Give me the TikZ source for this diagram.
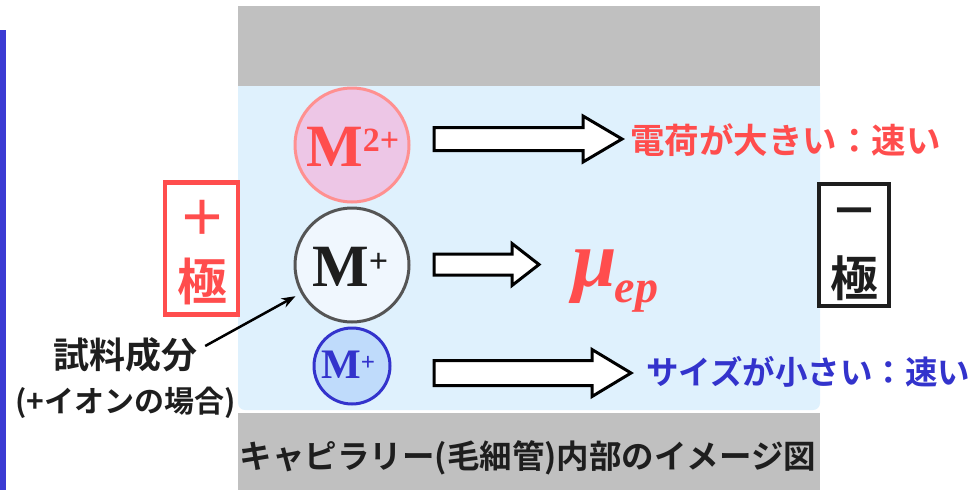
\documentclass[tikz,border=0pt]{standalone}
\usepackage{fontspec}
\setmainfont{Liberation Serif}
\newfontfamily\jp{Noto Sans CJK JP}[BoldFont={Noto Sans CJK JP Bold}]
\usetikzlibrary{arrows.meta,calc}

\definecolor{wallgray}{HTML}{C0C0C0}
\definecolor{bufferblue}{HTML}{DFF1FD}
\definecolor{hotred}{HTML}{FF4D4D}
\definecolor{deepblue}{HTML}{3333CC}
\definecolor{edgeblue}{HTML}{3B3BD3}
\definecolor{pinkfill}{HTML}{EDC6E6}
\definecolor{pinkedge}{HTML}{FF9090}
\definecolor{palefill}{HTML}{F0F7FE}
\definecolor{darkedge}{HTML}{555555}
\definecolor{skyfill}{HTML}{BFDBFB}
\definecolor{inkblack}{HTML}{1E1E1E}

\newcommand{\jpsize}[1]{\fontsize{#1}{#1}\selectfont}

\begin{document}
\begin{tikzpicture}[x=1pt,y=-1pt,
  jptext/.style={font=\jp\bfseries, inner sep=0pt},
  ion/.style={circle, line width=3pt, inner sep=0pt},
  iontext/.style={font=\bfseries, inner sep=0pt, anchor=base west},
  blk/.style={draw=black, line width=3pt, fill=white, line join=miter},
  polebox/.style={draw, fill=white, line width=4.5pt, inner sep=0pt},
  sarrow/.style={draw=black, line width=2.5pt,
    -{Stealth[length=14pt,width=10pt]}, shorten >=6pt}
]
\useasboundingbox (0,0) rectangle (976,490);

% edge of the slide frame
\fill[edgeblue] (0,30) rectangle (6,490);

% capillary: walls and buffer
\fill[wallgray] (238,6) rectangle (820,86);
\fill[bufferblue, rounded corners=7pt] (238,86) -- (238,410) -- (820,410) -- (820,86) -- cycle;
\fill[bufferblue] (238,86) rectangle (820,100);
\fill[wallgray] (238,413) rectangle (820,490);
\node[jptext, text=inkblack, font=\jp\bfseries\jpsize{32.5}] (cap) at (528,458)
  {キャピラリー(毛細管)内部のイメージ図};

% electrodes
\node[polebox, draw=hotred, minimum width=73pt, minimum height=132pt] (anode) at (201.5,248.5) {};
\node[jptext, text=hotred, font=\jp\bfseries\jpsize{48}] (anplus) at (202,218) {＋};
\node[jptext, text=hotred, font=\jp\bfseries\jpsize{50}] (ankyoku) at (202,281) {極};

\node[polebox, draw=inkblack, minimum width=70pt, minimum height=122pt] (cathode) at (854,245) {};
\node[jptext, text=inkblack, font=\jp\bfseries\jpsize{48}] (caminus) at (854,218) {－};
\node[jptext, text=inkblack, font=\jp\bfseries\jpsize{48}] (cakyoku) at (854,278) {極};

% ions
\node[ion, draw=pinkedge, fill=pinkfill, minimum size=114pt] (m2) at (352,145) {};
\node[ion, draw=darkedge, fill=palefill, minimum size=114pt] (m1) at (352,265) {};
\node[ion, draw=deepblue, fill=skyfill, minimum size=76pt] (ms) at (352,366) {};

\node[iontext, text=hotred] (m2t) at (306,166)
  {\jpsize{60}M\raisebox{15pt}{\jpsize{34}2+}};
\node[iontext, text=inkblack] (m1t) at (312,286)
  {\jpsize{60}M\raisebox{14pt}{\jpsize{34}+}};
\node[iontext, text=deepblue] (mst) at (321,378)
  {\jpsize{42}M\raisebox{8pt}{\jpsize{25}+}};

% migration arrows
\path[blk] (434,127.5) -- (583,127.5) -- (583,116) -- (622,139) -- (583,162)
  -- (583,150.5) -- (434,150.5) -- cycle;
\path[blk] (434,254) -- (512,254) -- (512,243.5) -- (539,264.5) -- (512,285.5)
  -- (512,275) -- (434,275) -- cycle;
\path[blk] (434,360.5) -- (592,360.5) -- (592,349.5) -- (631,373) -- (592,396.5)
  -- (592,385.5) -- (434,385.5) -- cycle;

% electrophoretic mobility
\node[iontext, text=hotred, font=\bfseries\itshape] (mu) at (572,286)
  {\jpsize{80}μ\kern-2pt\raisebox{-16pt}{\jpsize{46}ep}};

% remarks
\node[jptext, text=hotred, font=\jp\bfseries\jpsize{34.5}, anchor=west] (fastq) at (630,140)
  {電荷が大きい：速い};
\node[jptext, text=deepblue, font=\jp\bfseries\jpsize{32.5}, anchor=west] (fasts) at (646,372)
  {サイズが小さい：速い};

% sample label
\node[jptext, text=inkblack, font=\jp\bfseries\jpsize{36}] (sample) at (125,355) {試料成分};
\node[jptext, text=inkblack, font=\jp\bfseries\jpsize{30}] (samplenote) at (125.5,403) {(+イオンの場合)};
\coordinate (src) at ($(sample.east)+(8,-9)$);
\draw[sarrow] (src) -- (m1);
\end{tikzpicture}
\end{document}
